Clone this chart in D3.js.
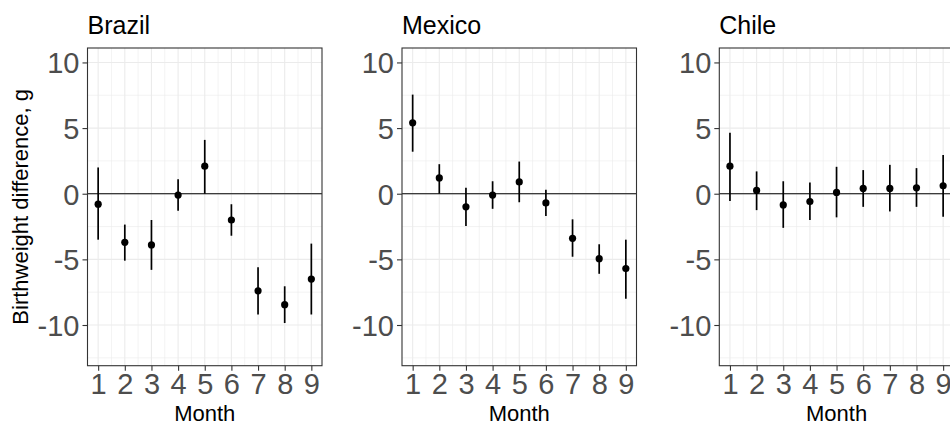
<!DOCTYPE html>
<html>
<head>
<meta charset="utf-8">
<script src="https://cdn.jsdelivr.net/npm/d3@7"></script>
<style>
  body { margin: 0; background: #fff; }
  svg { display: block; font-family: "Liberation Sans", Arial, sans-serif; }
</style>
</head>
<body>
<script>
// data
const countries = ["Brazil", "Mexico", "Chile"]
const months = [1, 2, 3, 4, 5, 6, 7, 8, 9]
const brazilEst = [-0.8, -3.7, -3.9, -0.1, 2.1, -2.0, -7.4, -8.45, -6.5]
const brazilLow = [-3.5, -5.1, -5.8, -1.3, 0.0, -3.2, -9.2, -9.85, -9.2]
const brazilHigh = [2.0, -2.35, -2.0, 1.1, 4.1, -0.8, -5.6, -7.05, -3.8]
const mexicoEst = [5.4, 1.2, -1.0, -0.1, 0.9, -0.7, -3.4, -4.95, -5.7]
const mexicoLow = [3.2, 0.0, -2.45, -1.15, -0.65, -1.7, -4.8, -6.1, -8.0]
const mexicoHigh = [7.55, 2.25, 0.45, 0.95, 2.45, 0.3, -1.95, -3.85, -3.5]
const chileEst = [2.1, 0.25, -0.85, -0.6, 0.1, 0.4, 0.4, 0.45, 0.6]
const chileLow = [-0.55, -1.25, -2.6, -2.0, -1.8, -1.0, -1.35, -1.0, -1.75]
const chileHigh = [4.65, 1.7, 0.95, 0.85, 2.05, 1.8, 2.2, 1.95, 2.95]
const yTicks = [-10, -5, 0, 5, 10]
const yMinor = [-12.5, -7.5, -2.5, 2.5, 7.5]
const xMinor = [1.5, 2.5, 3.5, 4.5, 5.5, 6.5, 7.5, 8.5]

const series = {
    Brazil: [brazilEst, brazilLow, brazilHigh],
    Mexico: [mexicoEst, mexicoLow, mexicoHigh],
    Chile: [chileEst, chileLow, chileHigh]
}

let width = 950, height = 426
let panelLefts = [87.5, 402, 719.3]
let panelW = 234.5, panelTop = 48, panelBottom = 365.7

let svg = d3.select("body").append("svg")
    .attr("width", width).attr("height", height)

let yScale = d3.scaleLinear().domain([-13.1, 11.1]).range([panelBottom, panelTop])

countries.forEach(function (country, k) {
    let left = panelLefts[k]
    let xScale = d3.scaleLinear().domain([0.6, 9.4]).range([left, left + panelW])
    let [est, low, high] = series[country]
    let g = svg.append("g")

    // grid
    g.selectAll(".ymin").data(yMinor).enter().append("line")
        .attr("x1", left).attr("x2", left + panelW)
        .attr("y1", d => yScale(d)).attr("y2", d => yScale(d))
        .attr("stroke", "#ebebeb").attr("stroke-width", 0.6)
    g.selectAll(".xmin").data(xMinor).enter().append("line")
        .attr("y1", panelTop).attr("y2", panelBottom)
        .attr("x1", d => xScale(d)).attr("x2", d => xScale(d))
        .attr("stroke", "#ebebeb").attr("stroke-width", 0.6)
    g.selectAll(".ymaj").data(yTicks).enter().append("line")
        .attr("x1", left).attr("x2", left + panelW)
        .attr("y1", d => yScale(d)).attr("y2", d => yScale(d))
        .attr("stroke", "#ebebeb").attr("stroke-width", 1.1)
    g.selectAll(".xmaj").data(months).enter().append("line")
        .attr("y1", panelTop).attr("y2", panelBottom)
        .attr("x1", d => xScale(d)).attr("x2", d => xScale(d))
        .attr("stroke", "#ebebeb").attr("stroke-width", 1.1)

    // zero line
    g.append("line")
        .attr("x1", left).attr("x2", left + panelW)
        .attr("y1", yScale(0)).attr("y2", yScale(0))
        .attr("stroke", "#000").attr("stroke-width", 1.1)

    // error bars and points
    g.selectAll(".bar").data(months).enter().append("line")
        .attr("x1", d => xScale(d)).attr("x2", d => xScale(d))
        .attr("y1", (d, i) => yScale(low[i])).attr("y2", (d, i) => yScale(high[i]))
        .attr("stroke", "#000").attr("stroke-width", 1.7)
    g.selectAll(".pt").data(months).enter().append("circle")
        .attr("cx", d => xScale(d)).attr("cy", (d, i) => yScale(est[i]))
        .attr("r", 3.6).attr("fill", "#000")

    // panel border
    g.append("rect")
        .attr("x", left).attr("y", panelTop)
        .attr("width", panelW).attr("height", panelBottom - panelTop)
        .attr("fill", "none").attr("stroke", "#333").attr("stroke-width", 1.1)

    // axes (plain hyphen minus like the reference)
    let yAxis = g.append("g").attr("transform", "translate(" + left + ",0)")
        .call(d3.axisLeft(yScale).tickValues(yTicks).tickSize(5).tickPadding(3)
            .tickFormat(d => String(d)))
    let xAxis = g.append("g").attr("transform", "translate(0," + panelBottom + ")")
        .call(d3.axisBottom(xScale).tickValues(months).tickSize(5).tickPadding(3)
            .tickFormat(d => String(d)))
    ;[yAxis, xAxis].forEach(function (ax) {
        ax.select(".domain").remove()
        ax.selectAll(".tick line").attr("stroke", "#333").attr("stroke-width", 1.1)
        ax.selectAll(".tick text").attr("fill", "#4d4d4d")
            .style("font-size", "29px").style("font-family", "Liberation Sans, Arial, sans-serif")
    })
    yAxis.selectAll(".tick text").attr("dy", "0.36em")

    // strip title
    g.append("text").attr("x", left).attr("y", 34)
        .style("font-size", "25px").attr("fill", "#000").text(country)

    // x axis title
    g.append("text").attr("x", left + panelW / 2).attr("y", 421)
        .attr("text-anchor", "middle").style("font-size", "22px")
        .attr("fill", "#000").text("Month")
})

svg.append("text")
    .attr("transform", "translate(28," + (panelTop + panelBottom) / 2 + ") rotate(-90)")
    .attr("text-anchor", "middle").style("font-size", "22px").attr("fill", "#000")
    .text("Birthweight difference, g")
</script>
</body>
</html>
